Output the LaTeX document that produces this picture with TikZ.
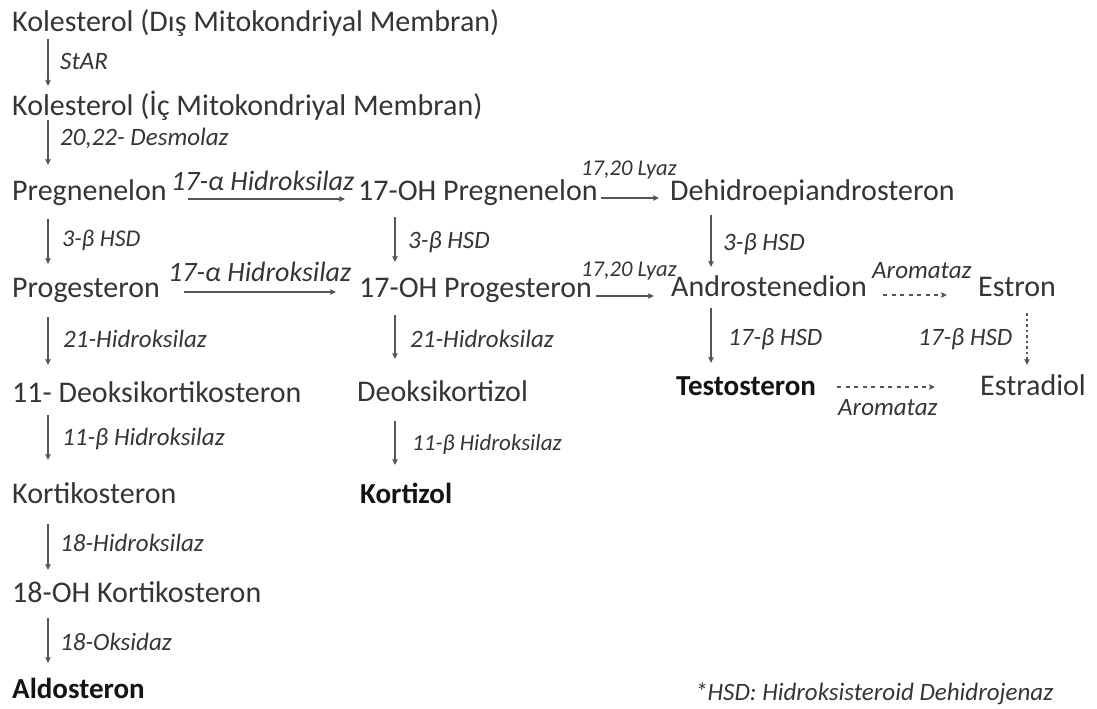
\documentclass[tikz,border=0pt]{standalone}
\usepackage{fontspec}
\setmainfont{Carlito}
\usetikzlibrary{calc,arrows.meta}
\definecolor{txtc}{HTML}{353535}
\definecolor{bldc}{HTML}{141414}
\definecolor{arrc}{HTML}{555555}
\begin{document}
\begin{tikzpicture}[x=1pt,y=-1pt,
  mol/.style={anchor=base west, inner sep=0pt, text=txtc, font=\fontsize{30}{36}\selectfont},
  molb/.style={anchor=base west, inner sep=0pt, text=bldc, font=\fontsize{29}{35}\selectfont\bfseries},
  enz/.style={anchor=base west, inner sep=0pt, text=txtc, font=\fontsize{25}{30}\selectfont\itshape},
  enzbig/.style={enz, font=\fontsize{28}{33}\selectfont\itshape},
  enzsmall/.style={enz, font=\fontsize{22.5}{27}\selectfont\itshape},
  arr/.style={draw=arrc, line width=1.3pt, -{Stealth[length=6pt,width=5.5pt,inset=1pt]}},
  darr/.style={arr, dash pattern=on 4pt off 4.5pt},
  varr/.style={arr, dash pattern=on 2.5pt off 3pt}]
\useasboundingbox (0,0) rectangle (1097,709);
\coordinate (c1) at (48,0);
\coordinate (c2) at (395,0);
\coordinate (c3) at (711,0);
\coordinate (c4) at (1027,0);
% molecules
\node[mol] (k1) at (12,32) {Kolesterol (Dış Mitokondriyal Membran)};
\node[mol] (k2) at (12,115) {Kolesterol (İç Mitokondriyal Membran)};
\node[mol] (preg) at (12,200) {Pregnenelon};
\node[mol] (ohpreg) at (358,200) {17-OH Pregnenelon};
\node[mol] (dhea) at (670,200) {Dehidroepiandrosteron};
\node[mol] (prog) at (12,297) {Progesteron};
\node[mol] (ohprog) at (359,297) {17-OH Progesteron};
\node[mol] (andro) at (671,296) {Androstenedion};
\node[mol] (estron) at (978,296) {Estron};
\node[mol] (doc) at (12,402) {11- Deoksikortikosteron};
\node[mol] (deok) at (357,401) {Deoksikortizol};
\node[molb] (testo) at (676,395) {Testosteron};
\node[mol] (estra) at (980,395) {Estradiol};
\node[mol] (kort) at (12,503) {Kortikosteron};
\node[molb] (kortizol) at (360,503) {Kortizol};
\node[mol] (oh18) at (12,602) {18-OH Kortikosteron};
\node[molb] (aldo) at (12,698) {Aldosteron};
\node[enz] (foot) at (695,700) {*HSD: Hidroksisteroid Dehidrojenaz};
% enzyme labels
\node[enz] (e1) at (60,70) {StAR};
\node[enz] (e2) at (60,145) {20,22- Desmolaz};
\node[enzbig] (e3) at (171,190) {17-α Hidroksilaz};
\node[enzsmall] (e4) at (581,175) {17,20 Lyaz};
\node[enz, font=\fontsize{24}{29}\selectfont\itshape] (e5) at (62,246) {3-β HSD};
\node[enz] (e6) at (408,248) {3-β HSD};
\node[enz] (e7) at (723,250) {3-β HSD};
\node[enzbig] (e8) at (168,281) {17-α Hidroksilaz};
\node[enzsmall] (e9) at (581,276) {17,20 Lyaz};
\node[enz] (e10) at (872,278) {Aromataz};
\node[enz] (e11) at (63,347) {21-Hidroksilaz};
\node[enz] (e12) at (410,347) {21-Hidroksilaz};
\node[enz] (e13) at (728,345) {17-β HSD};
\node[enz] (e14) at (918,345) {17-β HSD};
\node[enz] (e15) at (838,415) {Aromataz};
\node[enz] (e16) at (62,445) {11-β Hidroksilaz};
\node[enz, font=\fontsize{23}{28}\selectfont\itshape] (e17) at (412,450) {11-β Hidroksilaz};
\node[enz] (e18) at (60,551) {18-Hidroksilaz};
\node[enz] (e19) at (60,650) {18-Oksidaz};
% vertical arrows
\draw[arr] ($(k1.base -| c1)+(0,7)$) -- ($(k2.base -| c1)+(0,-29)$);
\draw[arr] ($(k2.base -| c1)+(0,5)$) -- ($(preg.base -| c1)+(0,-35)$);
\draw[arr] ($(preg.base -| c1)+(0,19)$) -- ($(prog.base -| c1)+(0,-33)$);
\draw[arr] ($(prog.base -| c1)+(0,20)$) -- ($(doc.base -| c1)+(0,-37)$);
\draw[arr] ($(doc.base -| c1)+(0,13)$) -- ($(kort.base -| c1)+(0,-43)$);
\draw[arr] ($(kort.base -| c1)+(0,21)$) -- ($(oh18.base -| c1)+(0,-32)$);
\draw[arr] ($(oh18.base -| c1)+(0,16)$) -- ($(aldo.base -| c1)+(0,-35)$);
\draw[arr] ($(ohpreg.base -| c2)+(0,17)$) -- ($(ohprog.base -| c2)+(0,-35)$);
\draw[arr] ($(ohprog.base -| c2)+(0,18)$) -- ($(deok.base -| c2)+(0,-42)$);
\draw[arr] ($(deok.base -| c2)+(0,20)$) -- ($(kortizol.base -| c2)+(0,-38)$);
\draw[arr] ($(dhea.base -| c3)+(0,15)$) -- ($(andro.base -| c3)+(0,-29)$);
\draw[arr] ($(andro.base -| c3)+(0,12)$) -- ($(testo.base -| c3)+(0,-32)$);
\draw[varr] ($(estron.base -| c4)+(0,17)$) -- ($(estra.base -| c4)+(0,-30)$);
% horizontal arrows
\draw[arr] ($(preg.base west)+(176,-1)$) -- ($(ohpreg.base west)+(-13,-1)$);
\draw[arr] ($(prog.base west)+(172,-5)$) -- ($(ohprog.base west)+(-23,-5)$);
\draw[arr] ($(ohpreg.base west)+(243,-2)$) -- ($(dhea.base west)+(-11,-2)$);
\draw[arr] ($(ohprog.base west)+(237,-1)$) -- ($(andro.base west)+(-17,0)$);
\draw[darr] ($(andro.base west)+(212,-1)$) -- ($(estron.base west)+(-31,-1)$);
\draw[darr] ($(testo.base west)+(161,-8)$) -- ($(estra.base west)+(-45,-8)$);
\end{tikzpicture}
\end{document}
